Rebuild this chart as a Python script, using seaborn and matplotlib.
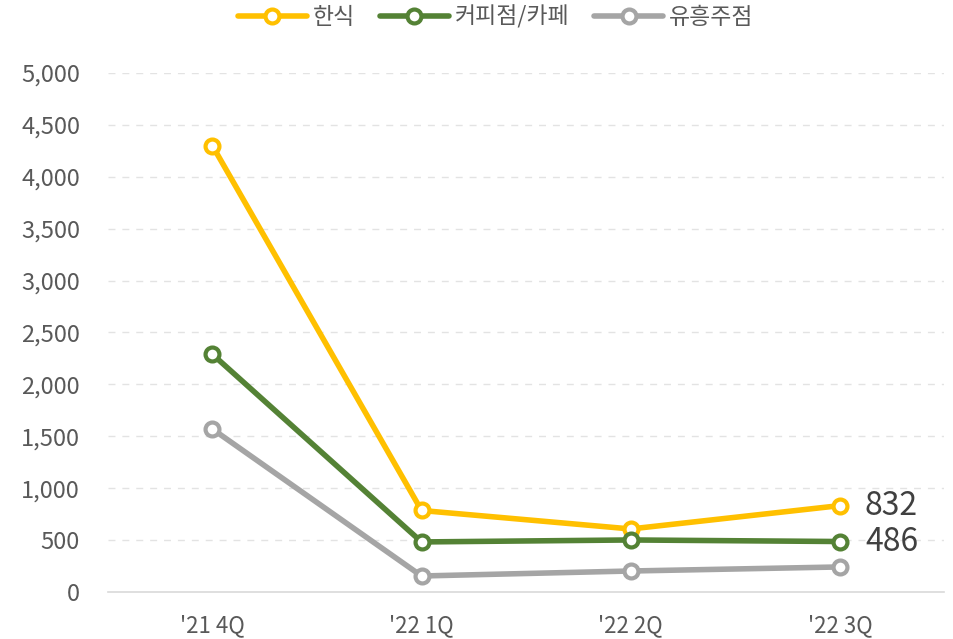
import pandas as pd
import matplotlib.pyplot as plt
import seaborn as sns

quarters = ["'21 4Q", "'22 1Q", "'22 2Q", "'22 3Q"]
hansik = [4300, 785, 607, 832]
cafe = [2290, 482, 501, 486]
bar = [1570, 154, 202, 241]
series_names = ['한식', '커피점/카페', '유흥주점']
colors = ['#FFC000', '#548235', '#A5A5A5']

df = pd.DataFrame({
    'quarter': quarters * 3,
    'value': hansik + cafe + bar,
    'series': [series_names[0]] * 4 + [series_names[1]] * 4 + [series_names[2]] * 4,
})

sns.set_theme(style='white')
plt.rcParams['font.family'] = ['Noto Sans CJK KR', 'DejaVu Sans']

fig = plt.figure(figsize=(9.54, 6.39), dpi=100)
ax = fig.add_axes([0.113, 0.0736, 0.877, 0.8122])

sns.lineplot(data=df, x='quarter', y='value', hue='series', palette=colors,
             marker='o', markersize=10, markerfacecolor='white', markeredgewidth=3,
             linewidth=4, ax=ax, sort=False)

for line, c in zip(ax.get_lines(), colors):
    line.set_markeredgecolor(c)

ax.set_xlim(-0.5, 3.5)
ax.set_ylim(0, 5000)
ax.set_yticks(range(0, 5001, 500))
ax.set_yticklabels([f'{v:,}' for v in range(0, 5001, 500)], fontsize=17, color='#595959')
ax.tick_params(axis='x', labelsize=16, colors='#595959', pad=10)
ax.tick_params(axis='y', pad=14)
ax.set_xlabel('')
ax.set_ylabel('')

for v in range(500, 5001, 500):
    ax.axhline(v, color='#e3e3e3', linestyle=(0, (5, 5)), linewidth=1, zorder=0)

for s in ['left', 'right', 'top']:
    ax.spines[s].set_visible(False)
ax.spines['bottom'].set_color('#d9d9d9')
ax.spines['bottom'].set_linewidth(1.2)

ax.text(3.12, hansik[3], f'{hansik[3]}', fontsize=23, color='#404040', va='center', ha='left')
ax.text(3.12, cafe[3], f'{cafe[3]}', fontsize=23, color='#404040', va='center', ha='left')

leg = ax.legend(loc='upper center', bbox_to_anchor=(0.5 - 0.113 / 2 + 0.02, 1.17), ncol=3,
                frameon=False, handlelength=3.0, columnspacing=1.1,
                handletextpad=0.25, prop={'family': ['Noto Sans CJK KR'], 'size': 16.5})
for h, c in zip(leg.legend_handles, colors):
    h.set_markeredgecolor(c)
    h.set_markerfacecolor('white')
for t in leg.get_texts():
    t.set_color('#595959')

fig.savefig('out.png', dpi=100)
